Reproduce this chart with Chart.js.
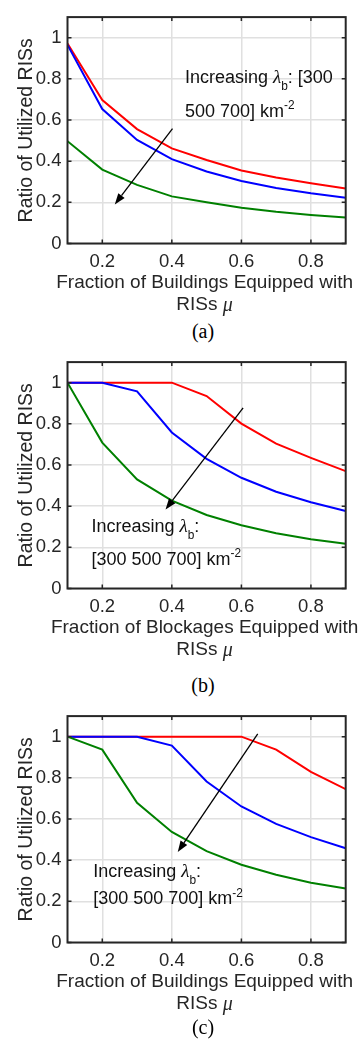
<!DOCTYPE html>
<html>
<head>
<meta charset="utf-8">
<script src="https://cdn.jsdelivr.net/npm/chart.js@4.4.0/dist/chart.umd.min.js"></script>
<style>
  body { margin: 0; background: #fff; overflow: hidden; }
  #fig { position: relative; width: 360px; height: 1046px; }
  #fig canvas { position: absolute; left: 0; }
  .cap {
    position: absolute; left: 153px; width: 100px; text-align: center;
    font: 20px "Liberation Serif", "Times New Roman", serif; color: #000;
    line-height: 22px;
  }
</style>
</head>
<body>
<div id="fig">
  <canvas id="panelA" width="360" height="320" style="top:0px"></canvas>
  <div class="cap" style="top:320px">(a)</div>
  <canvas id="panelB" width="360" height="320" style="top:345px"></canvas>
  <div class="cap" style="top:674px">(b)</div>
  <canvas id="panelC" width="360" height="320" style="top:699px"></canvas>
  <div class="cap" style="top:1016px">(c)</div>
</div>

<script>
// data ----------------------------------------------------------
const muValues = [0.1, 0.2, 0.3, 0.4, 0.5, 0.6, 0.7, 0.8, 0.9];

// (a) buildings, lambda_b = 300 / 500 / 700 km^-2
const ratioA300 = [0.972, 0.697, 0.556, 0.462, 0.406, 0.355, 0.321, 0.293, 0.267];
const ratioA500 = [0.965, 0.653, 0.503, 0.410, 0.350, 0.304, 0.270, 0.244, 0.222];
const ratioA700 = [0.497, 0.359, 0.285, 0.229, 0.200, 0.174, 0.154, 0.139, 0.126];

// (b) blockages
const ratioB300 = [1, 1, 1, 1, 0.935, 0.801, 0.704, 0.635, 0.570];
const ratioB500 = [1, 1, 0.958, 0.758, 0.630, 0.538, 0.470, 0.419, 0.377];
const ratioB700 = [1, 0.709, 0.530, 0.427, 0.357, 0.307, 0.268, 0.239, 0.217];

// (c) buildings, second setup
const ratioC300 = [1, 1, 1, 1, 1, 1, 0.937, 0.829, 0.745];
const ratioC500 = [1, 1, 1, 0.957, 0.782, 0.661, 0.576, 0.512, 0.458];
const ratioC700 = [1, 0.937, 0.679, 0.537, 0.444, 0.378, 0.329, 0.290, 0.262];

const xTicks = [0.2, 0.4, 0.6, 0.8];
const xTickLabels = ["0.2", "0.4", "0.6", "0.8"];
const yTicks = [0, 0.2, 0.4, 0.6, 0.8, 1];
const yTickLabels = ["0", "0.2", "0.4", "0.6", "0.8", "1"];

const lineColors = ["#ff0000", "#0000ff", "#008000"];

// helpers -------------------------------------------------------
const SANS = '"Liberation Sans", Arial, sans-serif';
const SERIF = '"Liberation Serif", "Times New Roman", serif';
Chart.defaults.font.family = SANS;
const AXIS_INK = "#262626";

// text with sub/superscripts, drawn from a left baseline point
function drawRich(ctx, x, y, segs, size) {
  let cx = x;
  ctx.textBaseline = "alphabetic";
  ctx.textAlign = "left";
  ctx.fillStyle = "#111";
  for (const [txt, kind] of segs) {
    let fs = size, dy = 0, fam = SANS, style = "";
    if (kind === "sub") { fs = size * 0.66; dy = size * 0.4; }
    if (kind === "sup") { fs = size * 0.66; dy = -size * 0.43; }
    if (kind === "greek") { style = "italic "; fam = SERIF; fs = size * 1.05; }
    ctx.font = `${style}${fs}px ${fam}`;
    ctx.fillText(txt, cx, y + dy);
    cx += ctx.measureText(txt).width;
  }
}

function drawArrow(ctx, x0, y0, x1, y1) {
  const ang = Math.atan2(y1 - y0, x1 - x0);
  const hl = 11, hw = 4;
  const bx = x1 - hl * Math.cos(ang), by = y1 - hl * Math.sin(ang);
  ctx.strokeStyle = "#000";
  ctx.lineWidth = 1.3;
  ctx.beginPath();
  ctx.moveTo(x0, y0);
  ctx.lineTo(bx, by);
  ctx.stroke();
  ctx.fillStyle = "#000";
  ctx.beginPath();
  ctx.moveTo(x1, y1);
  ctx.lineTo(bx + hw * Math.sin(ang), by - hw * Math.cos(ang));
  ctx.lineTo(bx - hw * Math.sin(ang), by + hw * Math.cos(ang));
  ctx.closePath();
  ctx.fill();
}

// x label is wider than the axes, so it is drawn here instead of by the scale
function drawXTitle(ctx, a, text) {
  const cx = (a.left + a.right) / 2 - 2;
  ctx.fillStyle = AXIS_INK;
  ctx.textBaseline = "middle";
  ctx.textAlign = "center";
  ctx.font = `19px ${SANS}`;
  ctx.fillText(text, cx, a.bottom + 39.5);

  const head = "RISs ";
  const wHead = ctx.measureText(head).width;
  ctx.font = `italic 20px ${SERIF}`;
  const wMu = ctx.measureText("μ").width;
  const x0 = cx - (wHead + wMu) / 2;
  ctx.textAlign = "left";
  ctx.font = `19px ${SANS}`;
  ctx.fillText(head, x0, a.bottom + 61.2);
  ctx.font = `italic 20px ${SERIF}`;
  ctx.fillText("μ", x0 + wHead, a.bottom + 62);
}

// box around the axes with inward tick marks, plus the arrow note
const frameAndNote = {
  id: "frameAndNote",
  afterDatasetsDraw(chart, args, opts) {
    const { ctx, chartArea: a, scales: { x, y } } = chart;
    ctx.save();
    ctx.strokeStyle = AXIS_INK;
    ctx.lineWidth = 1.5;
    ctx.beginPath();
    for (const v of xTicks) {
      const px = x.getPixelForValue(v);
      ctx.moveTo(px, a.bottom); ctx.lineTo(px, a.bottom - 4);
      ctx.moveTo(px, a.top); ctx.lineTo(px, a.top + 4);
    }
    for (const v of yTicks) {
      const py = y.getPixelForValue(v);
      ctx.moveTo(a.left, py); ctx.lineTo(a.left + 4, py);
      ctx.moveTo(a.right, py); ctx.lineTo(a.right - 4, py);
    }
    ctx.stroke();
    ctx.lineWidth = 2;
    ctx.strokeRect(a.left, a.top, a.right - a.left, a.bottom - a.top);

    drawXTitle(ctx, a, opts.xTitle);

    const n = opts.note;
    drawArrow(ctx,
      x.getPixelForValue(n.arrow[0]), y.getPixelForValue(n.arrow[1]),
      x.getPixelForValue(n.arrow[2]), y.getPixelForValue(n.arrow[3]));
    n.lines.forEach((segs, i) => {
      drawRich(ctx, x.getPixelForValue(n.at[0]), y.getPixelForValue(n.at[1 + i]), segs, 18);
    });
    ctx.restore();
  }
};

function makePanel(id, series, xTitle, note) {
  return new Chart(document.getElementById(id), {
    type: "line",
    data: {
      datasets: series.map((vals, i) => ({
        data: muValues.map((m, k) => ({ x: m, y: vals[k] })),
        borderColor: lineColors[i],
        borderWidth: 2,
        pointRadius: 0,
        tension: 0,
        fill: false,
        order: 3 - i
      }))
    },
    options: {
      responsive: false,
      animation: false,
      events: [],
      layout: { padding: { top: 5, right: 14.3, left: 0, bottom: 0 } },
      plugins: {
        legend: { display: false },
        tooltip: { enabled: false },
        frameAndNote: { note, xTitle }
      },
      scales: {
        x: {
          type: "linear", min: 0.1, max: 0.9,
          afterBuildTicks: s => { s.ticks = xTicks.map(v => ({ value: v })); },
          afterFit: s => { s.height = 76.5; },
          border: { display: false },
          grid: { color: "#e0e0e0", lineWidth: 1.5, drawTicks: false },
          ticks: {
            padding: 7.8, color: AXIS_INK, font: { size: 18.5 },
            maxRotation: 0, autoSkip: false,
            callback: (v, i) => xTickLabels[i]
          }
        },
        y: {
          type: "linear", min: 0, max: 1.1,
          afterBuildTicks: s => { s.ticks = yTicks.map(v => ({ value: v })); },
          afterFit: s => { s.width = 67.5; },
          border: { display: false },
          grid: { color: "#e0e0e0", lineWidth: 1.5, drawTicks: false },
          ticks: {
            padding: 6, color: AXIS_INK, font: { size: 18.5 },
            callback: (v, i) => yTickLabels[i]
          },
          title: {
            display: true, text: "Ratio of Utilized RISs", color: AXIS_INK,
            font: { size: 19.5, lineHeight: 1.1 }, padding: { top: 16.3, bottom: 0 }
          }
        }
      }
    },
    plugins: [frameAndNote]
  });
}

// ----------------------------------------------------------------
makePanel("panelA", [ratioA300, ratioA500, ratioA700],
  "Fraction of Buildings Equipped with", {
    arrow: [0.402, 0.558, 0.236, 0.19],
    at: [0.4376, 0.779, 0.617],
    lines: [
      [["Increasing ", ""], ["λ", "greek"], ["b", "sub"], [": [300", ""]],
      [["500 700] km", ""], ["-2", "sup"]]
    ]
  });

makePanel("panelB", [ratioB300, ratioB500, ratioB700],
  "Fraction of Blockages Equipped with", {
    arrow: [0.605, 0.878, 0.382, 0.384],
    at: [0.169, 0.274, 0.114],
    lines: [
      [["Increasing ", ""], ["λ", "greek"], ["b", "sub"], [":", ""]],
      [["[300 500 700] km", ""], ["-2", "sup"]]
    ]
  });

makePanel("panelC", [ratioC300, ratioC500, ratioC700],
  "Fraction of Buildings Equipped with", {
    arrow: [0.647, 1.014, 0.417, 0.44],
    at: [0.174, 0.319, 0.185],
    lines: [
      [["Increasing ", ""], ["λ", "greek"], ["b", "sub"], [":", ""]],
      [["[300 500 700] km", ""], ["-2", "sup"]]
    ]
  });
</script>
</body>
</html>
